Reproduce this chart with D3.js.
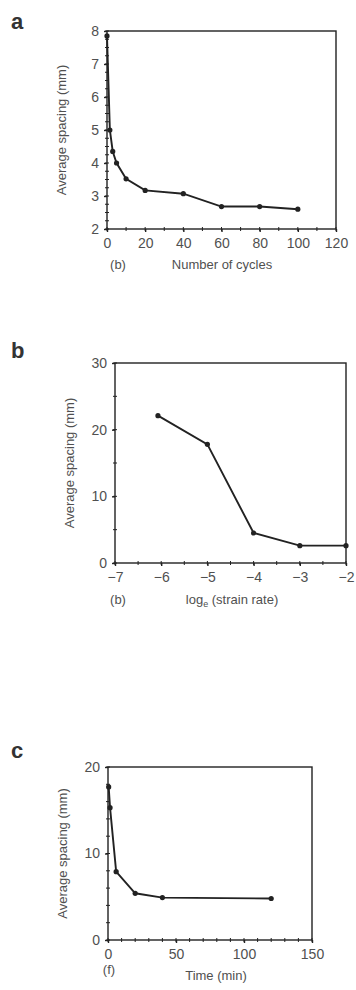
<!DOCTYPE html>
<html>
<head>
<meta charset="utf-8">
<script src="https://cdn.jsdelivr.net/npm/d3@7"></script>
<style>
  body { margin: 0; background: #fff; }
  svg { display: block; font-family: "Liberation Sans", Arial, sans-serif; }
</style>
</head>
<body>
<svg id="fig" width="356" height="990"></svg>
<script>
// panel a: spacing vs number of cycles
const cyclesX = [0, 1.5, 3, 5, 10, 20, 40, 60, 80, 100];
const cyclesY = [7.85, 5.0, 4.35, 4.0, 3.52, 3.17, 3.07, 2.68, 2.68, 2.6];
const cyclesTicksX = [0, 20, 40, 60, 80, 100, 120];
const cyclesTicksY = [2, 3, 4, 5, 6, 7, 8];

// panel b: spacing vs log strain rate
const rateX = [-6.07, -5, -4, -3, -2];
const rateY = [22.1, 17.8, 4.5, 2.6, 2.6];
const rateTicksX = [-7, -6, -5, -4, -3, -2];
const rateTicksY = [0, 10, 20, 30];

// panel c: spacing vs time
const timeX = [0.5, 1.5, 6, 20, 40, 120];
const timeY = [17.7, 15.3, 7.9, 5.4, 4.9, 4.8];
const timeTicksX = [0, 50, 100, 150];
const timeTicksY = [0, 10, 20];

const svg = d3.select("#fig");
const ink = "#222";
const txt = "#505050";

function panel(cfg) {
  const g = svg.append("g");
  const x = d3.scaleLinear().domain(cfg.xDomain).range([cfg.left, cfg.right]);
  const y = d3.scaleLinear().domain(cfg.yDomain).range([cfg.bottom, cfg.top]);

  // frame
  g.append("rect")
    .attr("x", cfg.left).attr("y", cfg.top)
    .attr("width", cfg.right - cfg.left).attr("height", cfg.bottom - cfg.top)
    .attr("fill", "none").attr("stroke", ink).attr("stroke-width", 1.4);

  // minor ticks
  g.selectAll(".mx").data(d3.range(cfg.xDomain[0], cfg.xDomain[1] + 1e-9, cfg.xMinor))
    .join("line")
    .attr("x1", (d) => x(d)).attr("x2", (d) => x(d))
    .attr("y1", cfg.bottom - 2).attr("y2", cfg.bottom + 2)
    .attr("stroke", ink).attr("stroke-width", 1);
  g.selectAll(".my").data(d3.range(cfg.yDomain[0], cfg.yDomain[1] + 1e-9, cfg.yMinor))
    .join("line")
    .attr("x1", cfg.left - 2).attr("x2", cfg.left + 2)
    .attr("y1", (d) => y(d)).attr("y2", (d) => y(d))
    .attr("stroke", ink).attr("stroke-width", 1);

  // axes (labels only, frame draws the lines)
  const ax = g.append("g").attr("transform", `translate(0,${cfg.bottom})`)
    .call(d3.axisBottom(x).tickValues(cfg.xTicks).tickSize(3).tickPadding(6).tickFormat(cfg.xFmt || d3.format("d")));
  const ay = g.append("g").attr("transform", `translate(${cfg.left},0)`)
    .call(d3.axisLeft(y).tickValues(cfg.yTicks).tickSize(3).tickPadding(5).tickFormat(d3.format("d")));
  [ax, ay].forEach((a) => {
    a.select(".domain").remove();
    a.selectAll("line").attr("stroke", ink).attr("stroke-width", 1.4);
    a.selectAll("text").attr("fill", txt).style("font-size", "14px").style("font-family", "inherit");
  });

  // line + points
  const pts = cfg.xs.map((v, i) => [v, cfg.ys[i]]);
  g.append("path")
    .datum(pts)
    .attr("d", d3.line().x((d) => x(d[0])).y((d) => y(d[1])))
    .attr("fill", "none").attr("stroke", ink).attr("stroke-width", 1.9);
  g.selectAll(".pt").data(pts).join("circle")
    .attr("cx", (d) => x(d[0])).attr("cy", (d) => y(d[1]))
    .attr("r", 2.6).attr("fill", ink);

  // y title
  g.append("text")
    .attr("transform", `translate(${cfg.left - 41},${(cfg.top + cfg.bottom) / 2}) rotate(-90)`)
    .attr("text-anchor", "middle").attr("fill", txt).style("font-size", "13px")
    .text("Average spacing (mm)");

  // panel letter
  g.append("text")
    .attr("x", 11).attr("y", cfg.letterY)
    .attr("fill", "#333").style("font-size", "22px").style("font-weight", "bold")
    .text(cfg.letter);

  // x sub-label and title
  g.append("text")
    .attr("x", cfg.subX).attr("y", cfg.bottom + cfg.titleDy)
    .attr("text-anchor", "middle").attr("fill", txt).style("font-size", "13px")
    .text(cfg.sub);
  const t = g.append("text")
    .attr("x", cfg.titleX).attr("y", cfg.bottom + cfg.titleDy + (cfg.titleExtra || 0))
    .attr("text-anchor", "middle").attr("fill", txt).style("font-size", "13px");
  cfg.title(t);
}

panel({
  letter: "a", letterY: 29,
  left: 107, right: 336, top: 31, bottom: 229,
  xDomain: [0, 120], yDomain: [2, 8],
  xTicks: cyclesTicksX, yTicks: cyclesTicksY, xMinor: 10, yMinor: 0.25,
  xs: cyclesX, ys: cyclesY,
  sub: "(b)", subX: 118, titleX: 222, titleDy: 40,
  title: (t) => t.text("Number of cycles")
});

panel({
  letter: "b", letterY: 358,
  left: 115, right: 346, top: 363, bottom: 563,
  xDomain: [-7, -2], yDomain: [0, 30],
  xTicks: rateTicksX, yTicks: rateTicksY, xMinor: 0.5, yMinor: 5,
  xFmt: (d) => "\u2212" + Math.abs(d),
  xs: rateX, ys: rateY,
  sub: "(b)", subX: 118, titleX: 232, titleDy: 41,
  title: (t) => {
    t.append("tspan").text("log");
    t.append("tspan").attr("dy", 3).style("font-size", "9px").text("e");
    t.append("tspan").attr("dy", -3).text(" (strain rate)");
  }
});

panel({
  letter: "c", letterY: 758,
  left: 108, right: 312, top: 767, bottom: 940,
  xDomain: [0, 150], yDomain: [0, 20],
  xTicks: timeTicksX, yTicks: timeTicksY, xMinor: 10, yMinor: 2,
  xs: timeX, ys: timeY,
  sub: "(f)", subX: 109, titleX: 216, titleDy: 34, titleExtra: 6,
  title: (t) => t.text("Time (min)")
});
</script>
</body>
</html>
